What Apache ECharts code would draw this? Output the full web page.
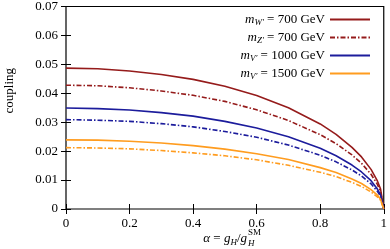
<!DOCTYPE html>
<html>
<head>
<meta charset="utf-8">
<script src="https://cdn.jsdelivr.net/npm/echarts@6/dist/echarts.min.js"></script>
<style>
  html, body { margin: 0; padding: 0; background: #fff; }
  #chart { width: 390px; height: 249px; }
</style>
</head>
<body>
<div id="chart"></div>
<script>
// values
const alpha = [0, 0.1, 0.2, 0.3, 0.4, 0.5, 0.6, 0.7, 0.8, 0.85, 0.9, 0.93, 0.96, 0.98, 0.99, 1];
const wPrime700 = [0.0487, 0.0485, 0.0477, 0.0465, 0.0448, 0.0424, 0.0392, 0.0350, 0.0294, 0.0258, 0.0213, 0.0180, 0.0137, 0.0097, 0.0069, 0];
const zPrime700 = [0.0428, 0.0426, 0.0419, 0.0408, 0.0393, 0.0372, 0.0343, 0.0306, 0.0257, 0.0226, 0.0187, 0.0158, 0.0120, 0.0085, 0.0060, 0];
const vPrime1000 = [0.0349, 0.0347, 0.0342, 0.0333, 0.0321, 0.0303, 0.0280, 0.0250, 0.0210, 0.0184, 0.0152, 0.0128, 0.0098, 0.0069, 0.0049, 0];
const vPrime1000b = [0.0309, 0.0307, 0.0303, 0.0295, 0.0284, 0.0268, 0.0248, 0.0221, 0.0186, 0.0163, 0.0135, 0.0114, 0.0087, 0.0061, 0.0044, 0];
const vPrime1500 = [0.0239, 0.0238, 0.0234, 0.0228, 0.0219, 0.0207, 0.0191, 0.0171, 0.0143, 0.0126, 0.0104, 0.0088, 0.0067, 0.0048, 0.0034, 0];
const vPrime1500b = [0.0212, 0.0211, 0.0208, 0.0202, 0.0194, 0.0184, 0.0170, 0.0151, 0.0127, 0.0112, 0.0092, 0.0078, 0.0059, 0.0042, 0.0030, 0];

const xTicks = [0, 0.2, 0.4, 0.6, 0.8, 1];
const yTicks = [0, 0.01, 0.02, 0.03, 0.04, 0.05, 0.06, 0.07];

const FONT = "Liberation Serif";
const RED = "#951b1b";
const BLUE = "#1c1c9c";
const ORANGE = "#ff9c1f";
const DASHDOT = [5, 2, 1.5, 2];

const pairs = (ys) => ys.map((y, i) => [alpha[i], y]);

const legendLabels = {
  w700: "{i|m}{s|W′}{t| = 700 GeV}",
  z700: "{i|m}{s|Z′}{t| = 700 GeV}",
  v1000: "{i|m}{s|V′}{t| = 1000 GeV}",
  v1500: "{i|m}{s|V′}{t| = 1500 GeV}",
};

const mkSeries = (name, ys, color, type) => ({
  name: name,
  type: "line",
  data: pairs(ys),
  symbol: "none",
  silent: true,
  lineStyle: { color: color, width: 1.6, type: type },
  itemStyle: { color: color },
  z: 3,
});

const chart = echarts.init(document.getElementById("chart"));
const tickIn = { show: true, inside: true, length: 5, lineStyle: { color: "#000", width: 1 } };

chart.setOption({
  animation: false,
  grid: { left: 66, right: 5, top: 5, bottom: 40, show: true, borderColor: "#000", borderWidth: 1.2 },
  legend: {
    orient: "vertical",
    right: 14,
    top: 8,
    align: "right",
    itemWidth: 40,
    itemHeight: 12,
    itemGap: 4,
    itemStyle: { opacity: 0 },
    data: ["w700", "z700", "v1000", "v1500"],
    formatter: (name) => legendLabels[name],
    textStyle: {
      fontFamily: FONT,
      fontSize: 13,
      color: "#000",
      rich: {
        i: { fontFamily: FONT, fontSize: 13, fontStyle: "italic", color: "#000" },
        s: { fontFamily: FONT, fontSize: 9, fontStyle: "italic", color: "#000", padding: [6, 0, 0, 0] },
        t: { fontFamily: FONT, fontSize: 13, color: "#000" },
      },
    },
  },
  xAxis: [
    {
      type: "value",
      min: 0,
      max: 1,
      interval: 0.2,
      axisLine: { show: false },
      axisTick: tickIn,
      splitLine: { show: false },
      axisLabel: {
        fontFamily: FONT,
        fontSize: 13,
        color: "#000",
        margin: 8,
        formatter: (v) => String(xTicks.find((t) => Math.abs(t - v) < 1e-6)),
      },
    },
    {
      type: "value",
      position: "top",
      min: 0,
      max: 1,
      interval: 0.2,
      axisLine: { show: false },
      axisTick: tickIn,
      axisLabel: { show: false },
      splitLine: { show: false },
    },
  ],
  yAxis: [
    {
      type: "value",
      min: 0,
      max: 0.07,
      interval: 0.01,
      axisLine: { show: false },
      axisTick: tickIn,
      splitLine: { show: false },
      axisLabel: {
        fontFamily: FONT,
        fontSize: 13,
        color: "#000",
        margin: 8,
        formatter: (v) => String(yTicks.find((t) => Math.abs(t - v) < 1e-6)),
      },
    },
    {
      type: "value",
      position: "right",
      min: 0,
      max: 0.07,
      interval: 0.01,
      axisLine: { show: false },
      axisTick: tickIn,
      axisLabel: { show: false },
      splitLine: { show: false },
    },
  ],
  graphic: [
    {
      type: "text",
      x: 247,
      y: 239,
      style: {
        text: "{i|α}{t| = }{i|g}{s|H}{t|/}{i|g}",
        fontFamily: FONT,
        fill: "#000",
        align: "right",
        verticalAlign: "middle",
        rich: {
          i: { fontFamily: FONT, fontSize: 13, fontStyle: "italic", fill: "#000" },
          t: { fontFamily: FONT, fontSize: 13, fill: "#000" },
          s: { fontFamily: FONT, fontSize: 9, fontStyle: "italic", fill: "#000", padding: [7, 0, 0, 0] },
        },
      },
    },
    {
      type: "text",
      x: 248,
      y: 244,
      style: { text: "H", fontFamily: FONT, fontSize: 9, fontStyle: "italic", fill: "#000", align: "left", verticalAlign: "middle" },
    },
    {
      type: "text",
      x: 248,
      y: 233,
      style: { text: "SM", fontFamily: FONT, fontSize: 9, fill: "#000", align: "left", verticalAlign: "middle" },
    },
    {
      type: "text",
      left: 3,
      top: 68,
      rotation: Math.PI / 2,
      style: {
        text: "coupling",
        fontFamily: FONT,
        fontSize: 13,
        fill: "#000",
      },
    },
  ],
  series: [
    mkSeries("w700", wPrime700, RED, "solid"),
    mkSeries("z700", zPrime700, RED, DASHDOT),
    mkSeries("v1000", vPrime1000, BLUE, "solid"),
    mkSeries("v1000b", vPrime1000b, BLUE, DASHDOT),
    mkSeries("v1500", vPrime1500, ORANGE, "solid"),
    mkSeries("v1500b", vPrime1500b, ORANGE, DASHDOT),
  ],
});
</script>
</body>
</html>
